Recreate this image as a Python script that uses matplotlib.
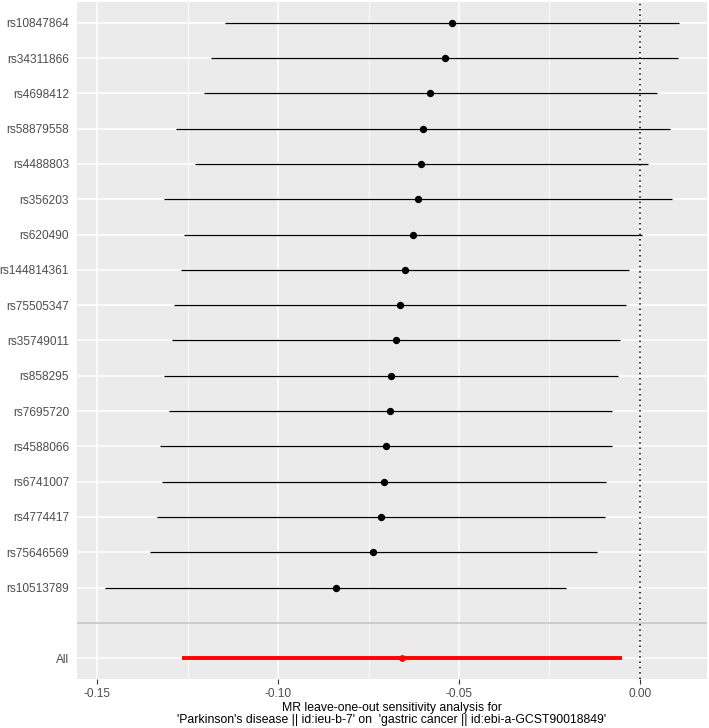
import numpy as np
import matplotlib
matplotlib.use("Agg")
import matplotlib.pyplot as plt
from matplotlib.ticker import MultipleLocator

plt.rcParams['font.family'] = ['Liberation Sans', 'DejaVu Sans']

# leave-one-out results, top row first
snps = ['rs10847864', 'rs34311866', 'rs4698412', 'rs58879558', 'rs4488803',
        'rs356203', 'rs620490', 'rs144814361', 'rs75505347', 'rs35749011',
        'rs858295', 'rs7695720', 'rs4588066', 'rs6741007', 'rs4774417',
        'rs75646569', 'rs10513789']
b = [-0.0520, -0.0540, -0.0580, -0.0600, -0.0604, -0.0614, -0.0626, -0.0649,
     -0.0664, -0.0675, -0.0689, -0.0690, -0.0702, -0.0708, -0.0716, -0.0737,
     -0.0841]
lo = [-0.1146, -0.1185, -0.1205, -0.1283, -0.1229, -0.1316, -0.1259, -0.1270,
      -0.1287, -0.1294, -0.1316, -0.1301, -0.1326, -0.1320, -0.1334, -0.1354,
      -0.1478]
up = [0.0107, 0.0105, 0.0047, 0.0083, 0.0023, 0.0089, 0.0005, -0.0029,
      -0.0039, -0.0055, -0.0061, -0.0077, -0.0077, -0.0094, -0.0097, -0.0118,
      -0.0203]
all_b, all_lo, all_up = -0.0658, -0.1265, -0.0050

xlabel = ("MR leave-one-out sensitivity analysis for\n"
          "'Parkinson's disease || id:ieu-b-7' on  'gastric cancer || id:ebi-a-GCST90018849'")

# levels: All=1, blank=2, SNPs 3..19 (last SNP at the bottom)
n = len(snps)
ypos = np.arange(n + 2, 2, -1)
labels = ['All', ''] + snps[::-1]
levels = np.arange(1, n + 3)

fig = plt.figure(figsize=(7.09, 7.28), dpi=100)
ax = fig.add_axes([0.1082, 0.0668, 0.8886, 0.931])
ax.set_facecolor('#EBEBEB')

ax.hlines(ypos, lo, up, color='black', lw=0.9, zorder=3)
ax.scatter(b, ypos, s=28, color='black', zorder=4, linewidths=0)
ax.hlines(1, all_lo, all_up, color='red', lw=2.8, zorder=3)
ax.scatter([all_b], [1], s=24, color='red', zorder=4, linewidths=0)

ax.axvline(0, color='black', ls=(0, (1, 2.5)), lw=1.1, zorder=2)
ax.axhline(2, color='#BEBEBE', lw=1.1, zorder=2)

ax.set_xlim(-0.1557, 0.0185)
ax.set_ylim(0.4, n + 2.6)
ax.xaxis.set_major_locator(MultipleLocator(0.05))
ax.xaxis.set_minor_locator(MultipleLocator(0.025))
ax.set_xticks([-0.15, -0.10, -0.05, 0.00])
ax.set_xticklabels(['-0.15', '-0.10', '-0.05', '0.00'])
ax.set_yticks(levels)
ax.set_yticklabels(labels)

ax.grid(which='major', color='white', lw=1.1, zorder=0)
ax.grid(which='minor', axis='x', color='white', lw=0.55, zorder=0)
ax.set_axisbelow(True)
for s in ax.spines.values():
    s.set_visible(False)

ax.tick_params(axis='x', which='major', length=3.5, width=0.8,
               color='#333333', labelcolor='#4D4D4D', labelsize=8.6, pad=2.5)
ax.tick_params(axis='y', which='major', length=0,
               labelcolor='#4D4D4D', labelsize=8.6, pad=5.5)
ax.tick_params(axis='x', which='minor', length=0)
ax.set_xlabel(xlabel, fontsize=8.8, color='black', labelpad=2, linespacing=0.95)

fig.savefig('out.png', dpi=100)
